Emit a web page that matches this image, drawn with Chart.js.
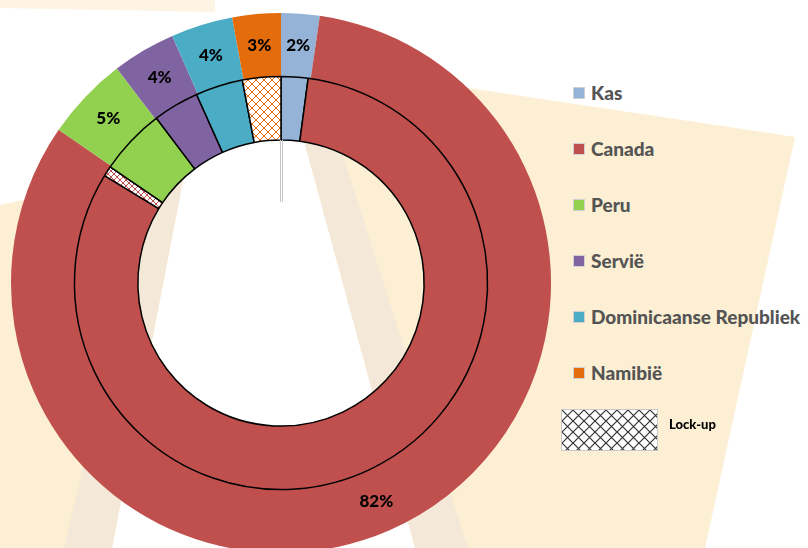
<!DOCTYPE html>
<html lang="nl">

<head>
  <meta charset="UTF-8">
  <title>Lock-up</title>
  <style>
    * {
      margin: 0;
      padding: 0;
      font-family: Lato, "Open Sans", sans-serif;
    }

    body {
      width: 808px;
      height: 548px;
      overflow: hidden;
      position: relative;
      background: #fff;
    }

    #bg {
      position: absolute;
      left: 0;
      top: 0;
    }

    .chartBox {
      position: absolute;
      left: 0;
      top: 0;
      width: 562px;
      height: 566px;
    }

    #legend {
      position: absolute;
      left: 573px;
      top: 65px;
    }

    .item {
      height: 56px;
      line-height: 56px;
      font-size: 19px;
      font-weight: 900;
      color: #545454;
      white-space: nowrap;
    }

    .item span.box {
      display: inline-block;
      width: 10px;
      height: 10px;
      border: 1px solid #d0d0d0;
      margin-right: 6px;
      vertical-align: middle;
      position: relative;
      top: -2px;
    }

    #lockup {
      position: absolute;
      left: 561px;
      top: 409px;
      display: flex;
      align-items: center;
    }

    #lockupBox {
      border: 1px solid #c8c8c8;
    }

    #lockupText {
      margin-left: 11px;
      font-size: 13px;
      font-weight: 900;
      color: #000;
      position: relative;
      top: -6px;
    }
  </style>
</head>

<body>
  <svg id="bg" width="808" height="548">
    <polygon points="0,0 215,0 215,12 0,8" fill="#fdf4e4" />
    <polygon points="282,60 795,137 705,548 415,548" fill="#fdefd3" />
    <polygon points="282,60 314,65 468,548 415,548" fill="#f4e8d8" />
    <polygon points="0,205 186,165 112,548 0,548" fill="#fdefd3" />
    <polygon points="154,171 186,165 112,548 64,548" fill="#f4e8d8" />
  </svg>
  <div class="chartBox">
    <canvas id="myChart"></canvas>
  </div>
  <div id="legend"></div>
  <div id="lockup">
    <canvas id="lockupBox" width="95" height="40"></canvas>
    <span id="lockupText"></span>
  </div>
  <script src="https://cdn.jsdelivr.net/npm/chart.js@4/dist/chart.umd.min.js"></script>
  <script>
    // outer ring: share per country (%)
    const categories = ['Kas', 'Canada', 'Peru', 'Servië', 'Dominicaanse Republiek', 'Namibië'];
    const outerShare = [2.3, 82.3, 5.0, 3.8, 3.7, 2.9];
    const colors = ['#95b3d7', '#c0504d', '#92d050', '#8064a2', '#4bacc6', '#e46c0a'];

    // inner ring: same countries, with the lock-up parts split off
    const innerParts = ['Kas', 'Canada', 'Canada lock-up', 'Peru', 'Servië', 'Dominicaanse Republiek', 'Namibië lock-up'];
    const innerShare = [2.1, 81.6, 0.8, 5.2, 3.6, 3.7, 3.0];
    const innerCountry = [0, 1, 1, 2, 3, 4, 5];
    const innerLockup = [false, false, true, false, false, false, true];

    const lockupLabel = 'Lock-up';

    const ctx = document.getElementById('myChart').getContext('2d');

    let hatch = (color, size, lw) => {
      const tile = document.createElement('canvas');
      tile.width = size;
      tile.height = size;
      const g = tile.getContext('2d');
      g.fillStyle = '#fff';
      g.fillRect(0, 0, size, size);
      g.strokeStyle = color;
      g.lineWidth = lw;
      g.beginPath();
      g.moveTo(0, 0); g.lineTo(size, size);
      g.moveTo(size, 0); g.lineTo(0, size);
      g.stroke();
      return tile;
    };

    const innerColors = innerShare.map((v, i) => {
      const c = colors[innerCountry[i]];
      if (!innerLockup[i]) return c;
      return ctx.createPattern(hatch(c, i == 2 ? 6 : 8, 1), 'repeat');
    });

    const pctLabels = {
      id: 'pctLabels',
      afterDatasetsDraw(chart) {
        const c = chart.ctx;
        const meta = chart.getDatasetMeta(0);
        c.save();
        c.font = '900 17px Lato, sans-serif';
        c.fillStyle = '#000';
        c.textAlign = 'center';
        c.textBaseline = 'middle';
        meta.data.forEach((arc, i) => {
          const p = arc.tooltipPosition();
          c.fillText(Math.round(outerShare[i]) + '%', p.x, p.y);
        });
        c.restore();
      },
      afterDraw(chart) {
        // thin grey tick under the 12 o'clock seam
        const arc = chart.getDatasetMeta(1).data[0];
        const c = chart.ctx;
        const top = arc.y - arc.innerRadius;
        c.save();
        c.strokeStyle = '#c4c4c4';
        c.lineWidth = 1;
        [-1, 1].forEach(d => {
          c.beginPath();
          c.moveTo(arc.x + d + 0.5, top);
          c.lineTo(arc.x + d + 0.5, top + 62);
          c.stroke();
        });
        c.restore();
      }
    };

    const data = {
      labels: categories,
      datasets: [
        {
          label: 'outer',
          data: outerShare,
          backgroundColor: colors,
          borderWidth: 0,
          order: 1
        },
        {
          label: 'inner',
          data: innerShare,
          backgroundColor: innerColors,
          borderColor: '#000',
          borderWidth: 1.5,
          order: 0
        }
      ]
    };

    const myChart = new Chart(ctx, {
      type: 'doughnut',
      data: data,
      options: {
        responsive: true,
        maintainAspectRatio: false,
        animation: false,
        cutout: '53%',
        layout: { padding: { left: 11, right: 11, top: 13, bottom: 13 } },
        plugins: {
          legend: { display: false },
          tooltip: { enabled: false }
        }
      },
      plugins: [pctLabels]
    });

    // legend
    const legend = document.getElementById('legend');
    categories.forEach((name, i) => {
      const row = document.createElement('div');
      row.className = 'item';
      const box = document.createElement('span');
      box.className = 'box';
      box.style.background = colors[i];
      row.appendChild(box);
      row.appendChild(document.createTextNode(name));
      legend.appendChild(row);
    });

    const lb = document.getElementById('lockupBox');
    const lctx = lb.getContext('2d');
    lctx.fillStyle = lctx.createPattern(hatch('#333', 11, 1.2), 'repeat');
    lctx.fillRect(0, 0, lb.width, lb.height);
    document.getElementById('lockupText').textContent = lockupLabel;
  </script>
</body>

</html>
